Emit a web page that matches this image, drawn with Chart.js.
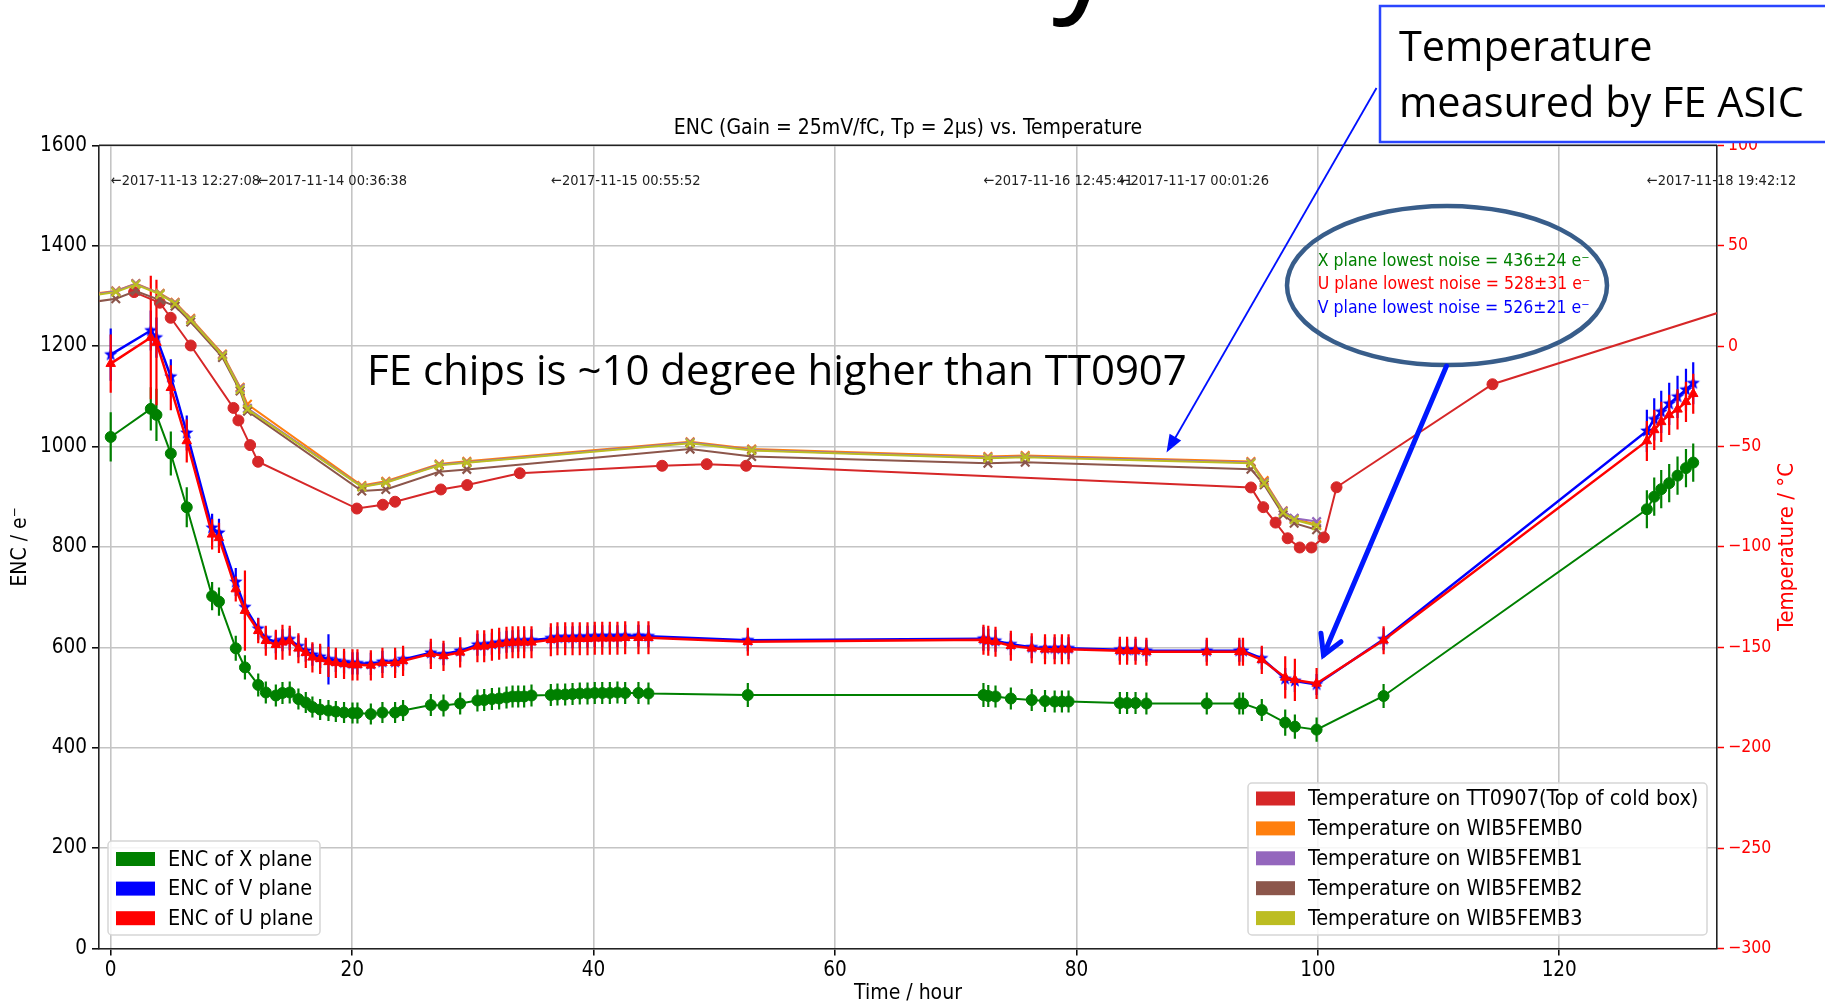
<!DOCTYPE html>
<html>
<head>
<meta charset="utf-8">
<script src="https://cdn.jsdelivr.net/npm/chart.js@4.4.1/dist/chart.umd.min.js"></script>
<style>
html, body { margin: 0; padding: 0; background: #fff; }
#wrap { width: 1825px; height: 1006px; position: relative; }
</style>
</head>
<body>
<div id="wrap"><canvas id="encChart" width="1825" height="1006"></canvas></div>
<script>
const FONT = "'DejaVu Sans Condensed', 'Liberation Sans Narrow', Roboto, sans-serif";
const SLIDE_FONT = "'Open Sans', 'Noto Sans', sans-serif";

const chartTitle = 'ENC (Gain = 25mV/fC, Tp = 2\u03bcs) vs. Temperature';

// tick labels
const xTicks = [0, 20, 40, 60, 80, 100, 120];
const encTicks = [0, 200, 400, 600, 800, 1000, 1200, 1400, 1600];
const tempTicks = [-300, -250, -200, -150, -100, -50, 0, 50, 100];

// ENC measurements (hours since 2017-11-13 12:27:08)
const encHours = [
  0, 3.32, 3.79, 4.98, 6.3, 8.4, 8.97, 10.36, 11.12, 12.22,
  12.85, 13.68, 14.23, 14.83, 15.55, 16.16, 16.71, 17.35, 18.04, 18.65,
  19.33, 20.03, 20.44, 21.55, 22.51, 23.56, 24.22, 26.52, 27.57, 28.95,
  30.38, 30.94, 31.58, 32.18, 32.79, 33.29, 33.76, 34.25, 34.86, 36.46,
  37.01, 37.65, 38.26, 38.86, 39.5, 40.1, 40.72, 41.35, 41.98, 42.62,
  43.72, 44.55, 52.78, 72.3, 72.7, 73.3, 74.57, 76.3, 77.4, 78.2,
  78.8, 79.35, 83.6, 84.2, 84.9, 85.8, 90.8, 93.5, 93.8, 95.36,
  97.3, 98.1, 99.9, 105.45, 127.26, 127.87, 128.45, 129.11, 129.8, 130.5,
  131.1
];
const encX = [
  1019, 1075, 1063, 986, 879, 702, 691, 598, 560, 525,
  510, 504, 509, 510, 497, 490, 481, 476, 474, 472,
  470, 469, 469, 467, 470, 470, 474, 485, 484, 488,
  494, 495, 497, 498, 500, 502, 502, 502, 504, 505,
  506, 506, 507, 508, 508, 509, 509, 509, 510, 509,
  509, 508, 505, 505, 503, 502, 498, 495, 493, 492,
  492, 492, 489, 489, 489, 488, 488, 488, 488, 475,
  450, 442, 436, 503, 875, 900, 915, 927, 942, 957,
  968
];
const errX = [
  49, 43, 52, 44, 40, 28, 28, 25, 24, 23,
  22, 22, 22, 22, 21, 21, 21, 21, 21, 21,
  21, 21, 21, 21, 21, 21, 21, 22, 22, 22,
  22, 22, 22, 22, 22, 22, 22, 22, 22, 22,
  22, 22, 22, 22, 22, 22, 22, 22, 22, 22,
  22, 22, 24, 24, 22, 22, 22, 22, 22, 22,
  22, 22, 22, 22, 22, 22, 22, 22, 22, 22,
  26, 24, 24, 24, 38, 38, 38, 38, 38, 38,
  38
];
const encV = [
  1183, 1231, 1217, 1139, 1027, 838, 828, 730, 680, 637,
  618, 610, 614, 616, 602, 593, 585, 581, 576, 573,
  570, 568, 568, 567, 571, 571, 576, 589, 586, 593,
  605, 605, 607, 609, 611, 612, 613, 613, 614, 618,
  620, 620, 620, 621, 621, 622, 622, 622, 622, 623,
  623, 622, 614, 617, 615, 613, 606, 600, 598, 598,
  598, 598, 595, 595, 595, 593, 593, 593, 593, 578,
  537, 533, 526, 616, 1031, 1054, 1069, 1085, 1099, 1113,
  1126
];
const errV = [
  52, 40, 40, 35, 35, 28, 28, 28, 25, 22,
  22, 22, 22, 22, 22, 22, 22, 22, 50, 22,
  22, 22, 22, 22, 22, 22, 22, 22, 22, 22,
  22, 22, 22, 22, 22, 22, 22, 22, 22, 22,
  22, 22, 22, 22, 22, 22, 22, 22, 22, 22,
  22, 22, 22, 24, 22, 22, 22, 22, 22, 22,
  22, 22, 22, 22, 22, 22, 22, 22, 22, 22,
  22, 22, 21, 22, 42, 42, 42, 42, 42, 42,
  42
];
const encU = [
  1165, 1217, 1207, 1117, 1011, 825, 818, 716, 673, 633,
  613, 605, 610, 613, 598, 589, 580, 577, 571, 569,
  567, 565, 565, 564, 569, 569, 573, 587, 583, 590,
  602, 602, 605, 607, 609, 610, 610, 610, 610, 615,
  617, 617, 617, 617, 617, 618, 618, 618, 618, 619,
  619, 619, 611, 615, 613, 611, 603, 598, 596, 596,
  596, 596, 593, 593, 593, 591, 591, 591, 591, 575,
  540, 535, 528, 614, 1011, 1033, 1049, 1063, 1074, 1089,
  1105
];
const errU = [
  58, 123, 125, 45, 43, 30, 30, 25, 80, 25,
  30, 30, 35, 30, 30, 30, 30, 30, 30, 30,
  30, 31, 31, 30, 30, 30, 30, 30, 30, 30,
  32, 32, 32, 32, 32, 32, 32, 32, 32, 33,
  33, 33, 33, 33, 33, 33, 33, 33, 33, 33,
  33, 33, 28, 30, 30, 30, 30, 30, 30, 30,
  30, 30, 28, 28, 28, 28, 28, 28, 28, 28,
  42, 42, 31, 28, 40, 40, 40, 40, 40, 40,
  40
];

// temperatures (deg C, right axis)
const ttHours = [1.94, 4.07, 4.97, 6.63, 10.17, 10.58, 11.55, 12.21, 20.39, 22.54,
  23.56, 27.35, 29.53, 33.89, 45.68, 49.38, 52.64, 94.46, 95.48, 96.5,
  97.5, 98.5, 99.47, 100.5, 101.55, 114.47, 136];
const ttTemp = [26.9, 21.6, 14.1, 0.3, -30.8, -37.0, -49.3, -57.6, -80.9, -79.0,
  -77.5, -71.4, -69.2, -63.3, -59.6, -58.8, -59.6, -70.4, -80.2, -87.9,
  -95.7, -100.3, -100.3, -95.3, -70.3, -19.0, 22.0];

const fembHours = [-2.0, 0.42, 2.08, 4.09, 5.33, 6.63, 9.26, 10.72, 11.33, 20.8, 22.79,
  27.21, 29.5, 48.0, 53.1, 72.67, 75.76, 94.46, 95.56, 97.13, 98.04, 99.9];
const femb0Temp = [25.6, 27.5, 31.2, 26.3, 21.8, 13.8, -3.9, -20.5, -29.0, -69.4, -67.3,
  -58.7, -57.4, -47.6, -51.2, -55.0, -54.5, -57.5, -67.0, -82.0, -86.0, -89.0];
const femb1Temp = [25.2, 27.3, 31.0, 26.0, 21.4, 13.3, -4.3, -21.0, -31.0, -69.9, -67.8,
  -59.1, -57.8, -48.0, -51.7, -55.5, -55.0, -58.0, -67.8, -82.2, -85.7, -87.4];
const femb2Temp = [21.5, 23.6, 27.4, 22.9, 19.9, 12.0, -5.65, -22.4, -32.4, -72.2, -71.4,
  -62.6, -61.4, -51.3, -55.0, -58.3, -57.8, -61.3, -69.1, -84.0, -88.2, -91.5];
const femb3Temp = [24.9, 26.9, 30.7, 25.75, 21.1, 13.0, -4.65, -21.6, -31.5, -70.2, -68.05,
  -59.4, -58.1, -48.35, -52.0, -55.8, -55.3, -58.3, -68.25, -82.9, -86.5, -89.5];

// timestamps written along the top
const dateHours = [0, 12.16, 36.48, 72.31, 83.57, 127.25];
const dateLabels = ['2017-11-13 12:27:08', '2017-11-14 00:36:38', '2017-11-15 00:55:52',
  '2017-11-16 12:45:41', '2017-11-17 00:01:26', '2017-11-18 19:42:12'];

const noiseNotes = [
  { text: 'X plane lowest noise = 436\u00b124 e\u207b', color: 'green' },
  { text: 'U plane lowest noise = 528\u00b131 e\u207b', color: 'red' },
  { text: 'V plane lowest noise = 526\u00b121 e\u207b', color: 'blue' }
];

function pts(xs, ys) {
  return xs.map((x, i) => ({ x: x, y: ys[i] }));
}

function starMarker(color, r) {
  const c = document.createElement('canvas');
  const s = Math.ceil(r * 2 + 2);
  c.width = s; c.height = s;
  const g = c.getContext('2d');
  g.fillStyle = color;
  g.beginPath();
  for (let i = 0; i < 10; i++) {
    const rad = i % 2 === 0 ? r : r * 0.42;
    const a = -Math.PI / 2 + i * Math.PI / 5;
    g.lineTo(s / 2 + rad * Math.cos(a), s / 2 + rad * Math.sin(a));
  }
  g.closePath();
  g.fill();
  return c;
}

function encSet(label, ys, errs, color, style, order, width) {
  return {
    label: label, data: pts(encHours, ys), errors: errs, yAxisID: 'y',
    borderColor: color, backgroundColor: color, borderWidth: width,
    pointStyle: style, pointRadius: 5.5, pointBorderWidth: 1,
    tension: 0, order: order, legendGroup: 'enc'
  };
}

function tempSet(label, xs, ys, color, style, order) {
  return {
    label: label, data: pts(xs, ys), yAxisID: 'y2',
    borderColor: color, backgroundColor: color, borderWidth: 2,
    pointStyle: style, pointRadius: style === 'circle' ? 5.5 : 6,
    pointBorderWidth: style === 'circle' ? 1 : 2.2,
    tension: 0, order: order, legendGroup: 'temp'
  };
}

const errorBarPlugin = {
  id: 'errorBars',
  beforeDatasetDraw(chart, args) {
    const ds = chart.data.datasets[args.index];
    if (!ds.errors) return;
    const ctx = chart.ctx, xs = chart.scales.x, ys = chart.scales[ds.yAxisID];
    const a = chart.chartArea;
    ctx.save();
    ctx.beginPath();
    ctx.rect(a.left, a.top, a.right - a.left, a.bottom - a.top);
    ctx.clip();
    ctx.strokeStyle = ds.borderColor;
    ctx.lineWidth = 2.2;
    ds.data.forEach((p, i) => {
      const px = xs.getPixelForValue(p.x);
      ctx.beginPath();
      ctx.moveTo(px, ys.getPixelForValue(p.y - ds.errors[i]));
      ctx.lineTo(px, ys.getPixelForValue(p.y + ds.errors[i]));
      ctx.stroke();
    });
    ctx.restore();
  }
};

function roundRect(ctx, x, y, w, h, r) {
  ctx.beginPath();
  ctx.moveTo(x + r, y);
  ctx.arcTo(x + w, y, x + w, y + h, r);
  ctx.arcTo(x + w, y + h, x, y + h, r);
  ctx.arcTo(x, y + h, x, y, r);
  ctx.arcTo(x, y, x + w, y, r);
  ctx.closePath();
}

function drawLegend(ctx, box, sets) {
  ctx.save();
  roundRect(ctx, box.x, box.y, box.w, box.h, 4);
  ctx.fillStyle = 'rgba(255,255,255,0.85)';
  ctx.fill();
  ctx.strokeStyle = '#d6d6d6';
  ctx.lineWidth = 1.5;
  ctx.stroke();
  ctx.font = '21.5px ' + FONT;
  ctx.textAlign = 'left';
  ctx.textBaseline = 'middle';
  sets.forEach((ds, i) => {
    const cy = box.y + box.first + i * box.step;
    ctx.fillStyle = ds.borderColor;
    ctx.fillRect(box.x + 8, cy - 7, 39, 14);
    ctx.fillStyle = '#000';
    ctx.fillText(ds.label, box.x + 60, cy + 1);
  });
  ctx.restore();
}

function arrowHead(ctx, tx, ty, fx, fy, len, ang, filled) {
  const a = Math.atan2(fy - ty, fx - tx);
  const p1 = [tx + len * Math.cos(a - ang), ty + len * Math.sin(a - ang)];
  const p2 = [tx + len * Math.cos(a + ang), ty + len * Math.sin(a + ang)];
  ctx.beginPath();
  ctx.moveTo(p1[0], p1[1]);
  ctx.lineTo(tx, ty);
  ctx.lineTo(p2[0], p2[1]);
  if (filled) { ctx.closePath(); ctx.fill(); } else { ctx.stroke(); }
}

function fitFont(ctx, text, family, width) {
  ctx.font = '100px ' + family;
  return 100 * width / ctx.measureText(text).width;
}

const overlayPlugin = {
  id: 'overlay',
  afterDraw(chart) {
    const ctx = chart.ctx, a = chart.chartArea;
    const xs = chart.scales.x, ys = chart.scales.y;
    ctx.save();

    // top spine
    ctx.strokeStyle = '#222';
    ctx.lineWidth = 1.6;
    ctx.beginPath();
    ctx.moveTo(a.left, a.top);
    ctx.lineTo(a.right, a.top);
    ctx.stroke();

    // title and axis titles
    ctx.fillStyle = '#000';
    ctx.font = '21px ' + FONT;
    ctx.textAlign = 'center';
    ctx.textBaseline = 'middle';
    ctx.fillText(chartTitle, (a.left + a.right) / 2, 129);
    ctx.fillText('Time / hour', (a.left + a.right) / 2, 994);
    ctx.save();
    ctx.translate(21, 547);
    ctx.rotate(-Math.PI / 2);
    ctx.fillText('ENC / e\u207b', 0, 0);
    ctx.restore();
    ctx.save();
    ctx.fillStyle = 'red';
    ctx.font = '22px ' + FONT;
    ctx.translate(1787, 547);
    ctx.rotate(-Math.PI / 2);
    ctx.fillText('Temperature / \u00b0C', 0, 0);
    ctx.restore();

    // timestamps
    ctx.font = '14.5px ' + FONT;
    ctx.textAlign = 'left';
    ctx.fillStyle = '#222';
    dateHours.forEach((h, i) => {
      ctx.fillText('\u2190' + dateLabels[i], xs.getPixelForValue(h), ys.getPixelForValue(1528));
    });

    // lowest noise notes
    ctx.font = '17.5px ' + FONT;
    ctx.textBaseline = 'alphabetic';
    noiseNotes.forEach((n, i) => {
      ctx.fillStyle = n.color;
      ctx.fillText(n.text, xs.getPixelForValue(100), ys.getPixelForValue(1360 - i * 47));
    });

    // legends
    const sets = chart.data.datasets;
    drawLegend(ctx, { x: 108, y: 841, w: 212, h: 94, first: 18, step: 29.6 },
      sets.filter(d => d.legendGroup === 'enc'));
    drawLegend(ctx, { x: 1248, y: 783, w: 459, h: 152, first: 15.5, step: 29.9 },
      sets.filter(d => d.legendGroup === 'temp'));

    // slide annotations
    ctx.fillStyle = '#fff';
    ctx.fillRect(1380, 6, 460, 136);
    ctx.strokeStyle = '#2a45ff';
    ctx.lineWidth = 2.5;
    ctx.strokeRect(1380, 6, 460, 136);
    const boxSize = fitFont(ctx, 'measured by FE ASIC', SLIDE_FONT, 405);
    ctx.font = boxSize + 'px ' + SLIDE_FONT;
    ctx.fillStyle = '#000';
    ctx.fillText('Temperature', 1399, 61);
    ctx.fillText('measured by FE ASIC', 1399, 117);

    const feText = 'FE chips is ~10 degree higher than TT0907';
    const feSize = fitFont(ctx, feText, SLIDE_FONT, 820);
    ctx.font = feSize + 'px ' + SLIDE_FONT;
    ctx.fillText(feText, 367, 385);

    // tail of the cut-off slide heading
    ctx.font = '130px ' + SLIDE_FONT;
    ctx.fillText('y', 1052, -4);

    // thin arrow from the box
    ctx.strokeStyle = '#0010ff';
    ctx.fillStyle = '#0010ff';
    ctx.lineWidth = 1.8;
    ctx.beginPath();
    ctx.moveTo(1376.5, 88);
    ctx.lineTo(1170, 447);
    ctx.stroke();
    arrowHead(ctx, 1166.5, 452.5, 1376.5, 88, 19, 0.36, true);

    // ellipse around the notes
    ctx.strokeStyle = '#385D8A';
    ctx.lineWidth = 4.5;
    ctx.beginPath();
    ctx.ellipse(1447, 285.5, 160, 79.5, 0, 0, Math.PI * 2);
    ctx.stroke();

    // thick arrow to the minimum
    ctx.strokeStyle = '#0018ff';
    ctx.lineWidth = 5;
    ctx.lineCap = 'round';
    ctx.beginPath();
    ctx.moveTo(1446.5, 366);
    ctx.lineTo(1323.5, 655);
    ctx.stroke();
    ctx.lineJoin = 'miter';
    arrowHead(ctx, 1323.5, 655, 1446.5, 366, 22, 0.52, false);

    ctx.restore();
  }
};

const datasets = [
  encSet('ENC of X plane', encX, errX, '#008000', 'circle', 8, 2),
  encSet('ENC of V plane', encV, errV, '#0000ff', starMarker('#0000ff', 7), 7, 2.5),
  encSet('ENC of U plane', encU, errU, '#ff0000', 'triangle', 6, 2.5),
  tempSet('Temperature on TT0907(Top of cold box)', ttHours, ttTemp, '#d62728', 'circle', 5),
  tempSet('Temperature on WIB5FEMB0', fembHours, femb0Temp, '#ff7f0e', 'crossRot', 4),
  tempSet('Temperature on WIB5FEMB1', fembHours, femb1Temp, '#9467bd', 'crossRot', 3),
  tempSet('Temperature on WIB5FEMB2', fembHours, femb2Temp, '#8c564b', 'crossRot', 2),
  tempSet('Temperature on WIB5FEMB3', fembHours, femb3Temp, '#bcbd22', 'crossRot', 1)
];

const plain = v => String(v).replace('-', '\u2212');

new Chart(document.getElementById('encChart').getContext('2d'), {
  type: 'line',
  data: { datasets: datasets },
  options: {
    responsive: false,
    animation: false,
    devicePixelRatio: 1,
    layout: { padding: { top: 145.3, left: 0, right: 0, bottom: 0 } },
    plugins: {
      legend: { display: false },
      title: { display: false },
      tooltip: { enabled: false }
    },
    scales: {
      x: {
        type: 'linear', min: -0.97, max: 133.07,
        afterBuildTicks: s => { s.ticks = xTicks.map(v => ({ value: v })); },
        afterFit: s => { s.height = 57.5; },
        ticks: { font: { size: 20.5, family: FONT }, color: '#000', padding: 3, callback: plain },
        grid: { color: '#c4c4c4', lineWidth: 1.6, tickColor: '#000', tickLength: 7, tickWidth: 1.5 },
        border: { display: true, color: '#222', width: 1.6 }
      },
      y: {
        type: 'linear', position: 'left', min: 0, max: 1600,
        afterBuildTicks: s => { s.ticks = encTicks.map(v => ({ value: v })); },
        afterFit: s => { s.width = 99; },
        ticks: { font: { size: 20.5, family: FONT }, color: '#000', padding: 5, callback: plain },
        grid: { color: '#c4c4c4', lineWidth: 1.6, tickColor: '#000', tickLength: 7, tickWidth: 1.5 },
        border: { display: true, color: '#222', width: 1.6 }
      },
      y2: {
        type: 'linear', position: 'right', min: -300, max: 100,
        afterBuildTicks: s => { s.ticks = tempTicks.map(v => ({ value: v })); },
        afterFit: s => { s.width = 108; },
        ticks: { font: { size: 17.5, family: FONT }, color: 'red', padding: 4, callback: plain },
        grid: { drawOnChartArea: false, tickColor: 'red', tickLength: 7, tickWidth: 1.5 },
        border: { display: true, color: '#222', width: 1.6 }
      }
    }
  },
  plugins: [errorBarPlugin, overlayPlugin]
});
</script>
</body>
</html>
